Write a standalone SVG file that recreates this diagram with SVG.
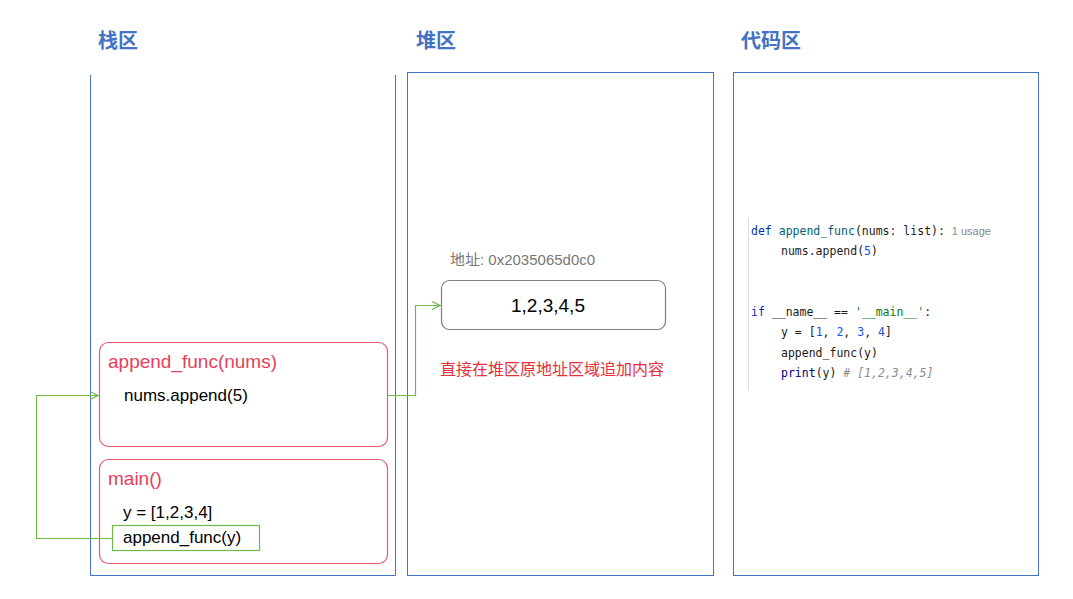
<svg xmlns="http://www.w3.org/2000/svg" width="1073" height="599" viewBox="0 0 1073 599">
<style>
.col{fill:none;stroke:#4472c4;stroke-width:1}
.title{font-family:"Noto Sans CJK SC",sans-serif;font-size:20px;font-weight:bold;fill:#4472c4}
.frame{fill:#fff;stroke:#e8596c;stroke-width:1.2}
.fh{font-family:"Liberation Sans",sans-serif;font-size:19px;fill:#e8405a}
.t{font-family:"Liberation Sans",sans-serif;font-size:17px;fill:#000}
.code{font-family:"DejaVu Sans Mono",monospace;font-size:11.5px;fill:#1a1a1a}
.conn{fill:none;stroke:#70b94a;stroke-width:1.2}
</style>
<defs><marker id="ah" markerWidth="10" markerHeight="10" refX="9" refY="5" orient="auto" markerUnits="userSpaceOnUse"><path d="M1,1 L9,5 L1,9" fill="none" stroke="#70b94a" stroke-width="1.2"/></marker></defs>
<rect width="1073" height="599" fill="#fff"/>
<g id="stack">
<text class="title" x="98" y="48">栈区</text>
<path class="col" d="M90.5,75 V575.5 H395.5 V75"/>
</g>
<g id="heap">
<text class="title" x="416" y="48">堆区</text>
<rect class="col" x="407.5" y="72.5" width="306" height="503"/>
</g>
<g id="codearea">
<text class="title" x="741" y="48">代码区</text>
<rect class="col" x="733.5" y="72.5" width="305" height="503"/>
<line x1="748.5" y1="218" x2="748.5" y2="390" stroke="#ddd"/>
<g class="code">
<text x="751" y="235"><tspan fill="#0033b3">def</tspan> <tspan fill="#00627a">append_func</tspan>(nums: list): <tspan font-family="Liberation Sans,sans-serif" font-size="11" fill="#888">1 usage</tspan></text>
<text x="781" y="255">nums.append(<tspan fill="#1750eb">5</tspan>)</text>
<text x="751" y="316"><tspan fill="#0033b3">if</tspan> __name__ == <tspan fill="#067d17">'__main__'</tspan>:</text>
<text x="781" y="336">y = [<tspan fill="#1750eb">1</tspan>, <tspan fill="#1750eb">2</tspan>, <tspan fill="#1750eb">3</tspan>, <tspan fill="#1750eb">4</tspan>]</text>
<text x="781" y="357">append_func(y)</text>
<text x="781" y="377"><tspan fill="#000080">print</tspan>(y)  <tspan fill="#8c8c8c" font-style="italic"># [1,2,3,4,5]</tspan></text>
</g>
</g>
<g id="frame-append">
<rect class="frame" x="99.5" y="342.5" width="288" height="104" rx="9"/>
<text class="fh" x="108" y="368">append_func(nums)</text>
<text class="t" x="124" y="401">nums.append(5)</text>
</g>
<g id="frame-main">
<rect class="frame" x="99.5" y="459.5" width="288" height="104" rx="9"/>
<text class="fh" x="108" y="485">main()</text>
<text class="t" x="123" y="518">y = [1,2,3,4]</text>
<rect x="112.5" y="525.5" width="147" height="25" fill="none" stroke="#70b94a" stroke-width="1.2"/>
<text class="t" x="123" y="543">append_func(y)</text>
</g>
<g id="heapobj">
<text x="450" y="265" font-family="Liberation Sans,'Noto Sans CJK SC',sans-serif" font-size="15" fill="#777">地址: 0x2035065d0c0</text>
<rect x="441.5" y="280.5" width="224" height="49" rx="8" fill="#fff" stroke="#7f7f7f" stroke-width="1.2"/>
<text x="548" y="312" text-anchor="middle" font-family="Liberation Sans,sans-serif" font-size="19">1,2,3,4,5</text>
<text x="440" y="375" font-family="'Noto Sans CJK SC',sans-serif" font-size="16" fill="#e8303a">直接在堆区原地址区域追加内容</text>
</g>
<g id="connectors">
<path class="conn" d="M112,538.5 H36.5 V395.5 H98" marker-end="url(#ah)"/>
<path class="conn" d="M388,395.5 H415.5 V305.5 H440" marker-end="url(#ah)"/>
</g>
</svg>
